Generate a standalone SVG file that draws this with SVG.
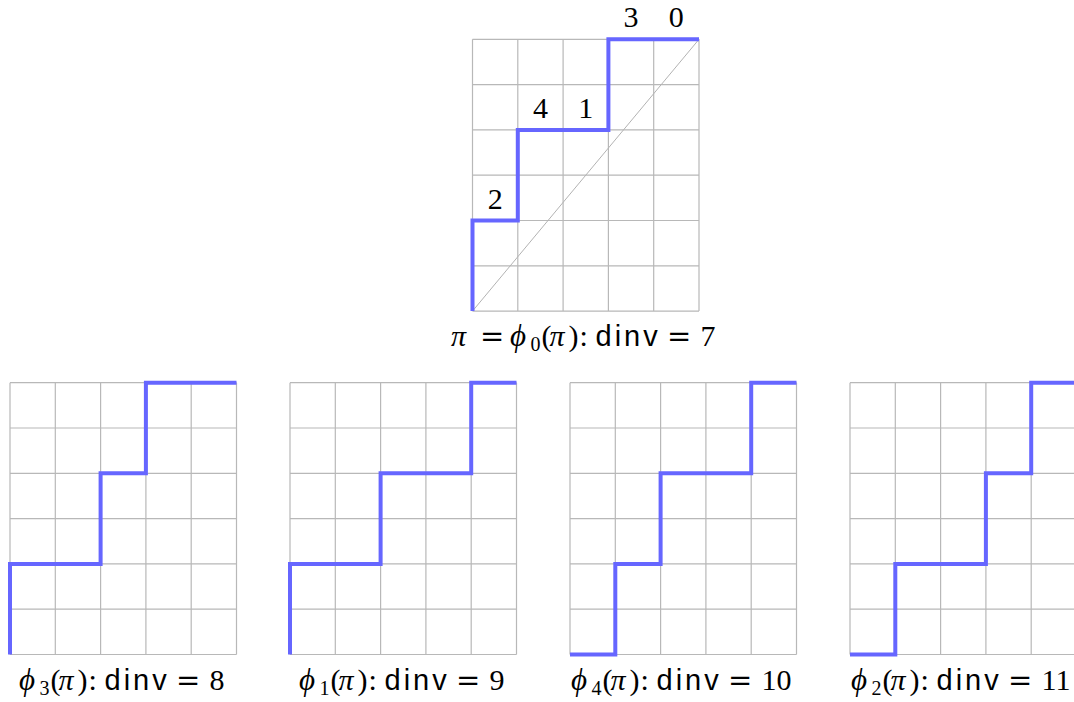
<svg xmlns="http://www.w3.org/2000/svg" width="1074" height="702" viewBox="0 0 1074 702">
<style>
.grid{stroke:#b8b8b8;stroke-width:1.2;fill:none}
.path{stroke:#6666ff;stroke-width:4;fill:none;stroke-linejoin:miter}
.diag{stroke:#b3b3b3;stroke-width:1;fill:none}
.num{font-family:"Liberation Serif",serif;font-size:30px;fill:#000;text-anchor:middle}
.lbl{font-family:"Liberation Serif","DejaVu Serif",serif;font-size:30px;fill:#000}
.it{font-style:italic}
.ph{font-family:"Liberation Serif","DejaVu Serif",serif;font-style:italic;font-size:31px}
.eq{font-family:"DejaVu Serif",serif;font-size:29px}
.sf{font-family:"Liberation Sans",sans-serif;font-size:29px;letter-spacing:3px}
.sub{font-size:20px}
</style>
<defs>
<path id="g" d="M0 0V271.8M45.3 0V271.8M90.6 0V271.8M135.9 0V271.8M181.2 0V271.8M226.5 0V271.8M0 0H226.5M0 45.3H226.5M0 90.6H226.5M0 135.9H226.5M0 181.2H226.5M0 226.5H226.5M0 271.8H226.5"/>
</defs>
<g id="top" transform="translate(472.5,39.3)">
<use href="#g" class="grid"/>
<path class="diag" d="M0 271.8L226.5 0"/>
<path class="path" d="M0 271.8V181.2H45.3V90.6H135.9V0H226.5"/>
<text class="num" x="22.65" y="170">2</text>
<text class="num" x="67.95" y="79">4</text>
<text class="num" x="113.25" y="79">1</text>
<text class="num" x="158.55" y="-12">3</text>
<text class="num" x="203.85" y="-12">0</text>
</g>
<g id="top-label">
<text class="lbl" y="346"><tspan class="it" x="451">π</tspan><tspan class="eq" x="480">=</tspan><tspan class="ph" x="510">ϕ</tspan><tspan class="sub" x="530.5" dy="5">0</tspan><tspan x="541.5" dy="-5">(</tspan><tspan class="it" x="549.5">π</tspan><tspan x="568.5">)</tspan><tspan x="579.5">:</tspan><tspan class="sf" x="595.5">dinv</tspan><tspan class="eq" x="667">=</tspan><tspan x="700.5">7</tspan></text>
</g>
<g id="phi3" transform="translate(10,382.7)">
<use href="#g" class="grid"/>
<path class="path" d="M0 271.8V181.2H90.6V90.6H135.9V0H226.5"/>
<text class="lbl" y="307.3"><tspan class="ph" x="9">ϕ</tspan><tspan class="sub" x="29.5" dy="5">3</tspan><tspan x="40.5" dy="-5">(</tspan><tspan class="it" x="48.5">π</tspan><tspan x="67.5">)</tspan><tspan x="78.5">:</tspan><tspan class="sf" x="94.5">dinv</tspan><tspan class="eq" x="166">=</tspan><tspan x="199.5">8</tspan></text>
</g>
<g id="phi1" transform="translate(290,382.7)">
<use href="#g" class="grid"/>
<path class="path" d="M0 271.8V181.2H90.6V90.6H181.2V0H226.5"/>
<text class="lbl" y="307.3"><tspan class="ph" x="9">ϕ</tspan><tspan class="sub" x="29.5" dy="5">1</tspan><tspan x="40.5" dy="-5">(</tspan><tspan class="it" x="48.5">π</tspan><tspan x="67.5">)</tspan><tspan x="78.5">:</tspan><tspan class="sf" x="94.5">dinv</tspan><tspan class="eq" x="166">=</tspan><tspan x="199.5">9</tspan></text>
</g>
<g id="phi4" transform="translate(570,382.7)">
<use href="#g" class="grid"/>
<path class="path" d="M0 271.8H45.3V181.2H90.6V90.6H181.2V0H226.5"/>
<text class="lbl" y="307.3"><tspan class="ph" x="1">ϕ</tspan><tspan class="sub" x="21.5" dy="5">4</tspan><tspan x="32.5" dy="-5">(</tspan><tspan class="it" x="40.5">π</tspan><tspan x="59.5">)</tspan><tspan x="70.5">:</tspan><tspan class="sf" x="86.5">dinv</tspan><tspan class="eq" x="158">=</tspan><tspan x="191.5">10</tspan></text>
</g>
<g id="phi2" transform="translate(850,382.7)">
<use href="#g" class="grid"/>
<path class="path" d="M0 271.8H45.3V181.2H135.9V90.6H181.2V0H226.5"/>
<text class="lbl" y="307.3"><tspan class="ph" x="1">ϕ</tspan><tspan class="sub" x="21.5" dy="5">2</tspan><tspan x="32.5" dy="-5">(</tspan><tspan class="it" x="40.5">π</tspan><tspan x="59.5">)</tspan><tspan x="70.5">:</tspan><tspan class="sf" x="86.5">dinv</tspan><tspan class="eq" x="158">=</tspan><tspan x="191.5">11</tspan></text>
</g>
</svg>
